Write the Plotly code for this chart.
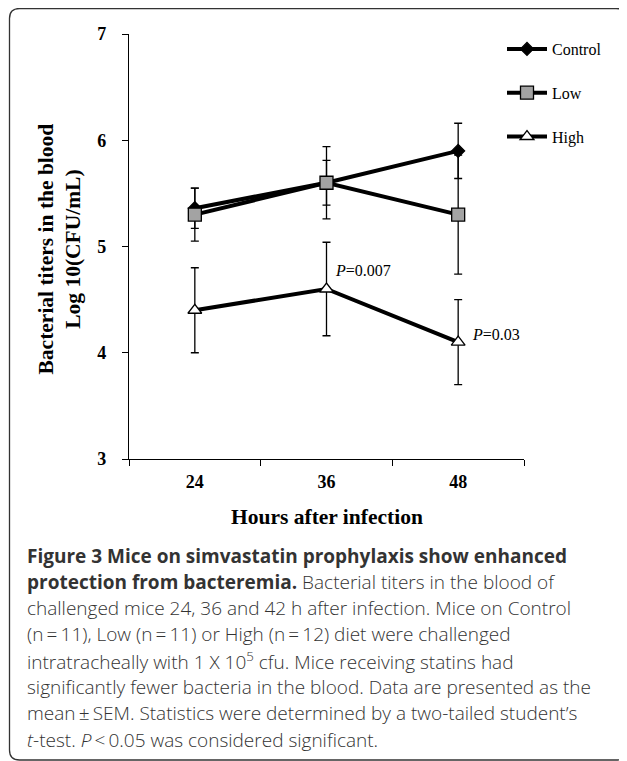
import plotly.graph_objects as go

# ---- data ----
hours = ["24", "36", "48"]
control = [5.36, 5.60, 5.90]
control_sem = [0.19, 0.21, 0.26]
low = [5.30, 5.60, 5.30]
low_sem = [0.25, 0.34, 0.56]
high = [4.40, 4.60, 4.10]
high_sem = [0.40, 0.44, 0.40]
y_ticks = [3, 4, 5, 6, 7]

caption_lines = [
    "<b>Figure 3 Mice on simvastatin prophylaxis show enhanced</b>",
    "<b>protection from bacteremia.</b> Bacterial titers in the blood of",
    "challenged mice 24, 36 and 42 h after infection. Mice on Control",
    "(n\u2009=\u200911), Low (n\u2009=\u200911) or High (n\u2009=\u200912) diet were challenged",
    "intratracheally with 1 X 10<sup>5</sup> cfu. Mice receiving statins had",
    "significantly fewer bacteria in the blood. Data are presented as the",
    "mean\u2009\u00b1\u2009SEM. Statistics were determined by a two-tailed student\u2019s",
    "<i>t</i>-test. <i>P</i>\u2009<\u20090.05 was considered significant.",
]

W, H = 627, 761
OFF = 8  # page body margin offset
L, R, T, B = 129, 524, 34, 459  # plot area in screen pixels


def px(x):
    return (x - L) / (R - L)


def py(y):
    return (B - y) / (B - T)


SERIF = "Liberation Serif"
SANS = "Open Sans"

fig = go.Figure()

specs = [
    ("Control", control, control_sem, "diamond", 10, "black"),
    ("Low", low, low_sem, "square", 13, "#a3a3a3"),
    ("High", high, high_sem, "triangle-up", 12, "white"),
]
for name, vals, sem, sym, size, fill in specs:
    fig.add_trace(go.Scatter(
        x=hours, y=vals, name=name, mode="lines+markers",
        legendgroup=name,
        line=dict(color="black", width=4),
        marker=dict(symbol=sym, size=size, color=fill,
                    line=dict(color="black", width=1.3)),
        error_y=dict(type="data", array=sem, visible=True,
                     color="black", thickness=1.3, width=4),
        cliponaxis=False,
    ))

# P-value annotations (category index positions)
fig.add_annotation(x=1, y=high[1] + 0.17, xref="x", yref="y",
                   text="<i>P</i>=0.007", showarrow=False, xanchor="left",
                   yanchor="middle", xshift=6,
                   font=dict(family=SERIF, size=16, color="black"))
fig.add_annotation(x=2, y=high[2] + 0.07, xref="x", yref="y",
                   text="<i>P</i>=0.03", showarrow=False, xanchor="left",
                   yanchor="middle", xshift=12,
                   font=dict(family=SERIF, size=16, color="black"))

# axis titles
fig.add_annotation(x=px(59.5), y=py(249), xref="paper", yref="paper",
                   text="Bacterial titers in the blood<br>Log 10(CFU/mL)",
                   textangle=-90, showarrow=False, xanchor="center",
                   yanchor="middle",
                   font=dict(family=SERIF, size=21.5, color="black", weight="bold"))
fig.add_annotation(x=0.5, y=py(517), xref="paper", yref="paper",
                   text="Hours after infection", showarrow=False,
                   xanchor="center", yanchor="middle",
                   font=dict(family=SERIF, size=21.5, color="black", weight="bold"))

# caption
for i, line in enumerate(caption_lines):
    fig.add_annotation(x=px(25), y=py(555.5 + i * 26.3), xref="paper", yref="paper",
                       text=line, showarrow=False, xanchor="left", yanchor="middle",
                       font=dict(family=SANS, size=19, color="#333333", weight=300))

# rounded frame
x0, y0, x1, y1, r = 9.5, 8.5, 626, 760, 10
path = (f"M{px(x0)},{py(y1 - r)} L{px(x0)},{py(y0 + r)} "
        f"Q{px(x0)},{py(y0)} {px(x0 + r)},{py(y0)} "
        f"L{px(x1 - r)},{py(y0)} Q{px(x1)},{py(y0)} {px(x1)},{py(y0 + r)} "
        f"L{px(x1)},{py(y1 - r)} Q{px(x1)},{py(y1)} {px(x1 - r)},{py(y1)} "
        f"L{px(x0 + r)},{py(y1)} Q{px(x0)},{py(y1)} {px(x0)},{py(y1 - r)}")
fig.add_shape(type="path", path=path, xref="paper", yref="paper",
              line=dict(color="#333333", width=1.3))

fig.update_xaxes(type="category", range=[-0.5, 2.5], tickson="boundaries",
                 showline=True, linecolor="black", linewidth=1.3,
                 ticks="outside", ticklen=6, tickwidth=1.3, tickcolor="black",
                 showgrid=False, zeroline=False, ticklabelstandoff=6,
                 tickfont=dict(family=SERIF, size=18, color="black", weight="bold"))
fig.update_yaxes(range=[3, 7], tickvals=y_ticks,
                 showline=True, linecolor="black", linewidth=1.3,
                 ticks="outside", ticklen=6, tickwidth=1.3, tickcolor="black",
                 showgrid=False, zeroline=False, ticklabelstandoff=12,
                 tickfont=dict(family=SERIF, size=18, color="black", weight="bold"))

fig.update_layout(
    width=W, height=H,
    margin=dict(l=L - OFF, r=W - (R - OFF), t=T - OFF, b=H - (B - OFF), pad=0),
    paper_bgcolor="white", plot_bgcolor="white",
    showlegend=True,
    legend=dict(x=px(502), y=py(32), xanchor="left", yanchor="top",
                font=dict(family=SERIF, size=16, color="black"),
                bgcolor="rgba(0,0,0,0)", tracegroupgap=20, itemwidth=40,
                traceorder="grouped"),
)

fig.write_html("out.html")
